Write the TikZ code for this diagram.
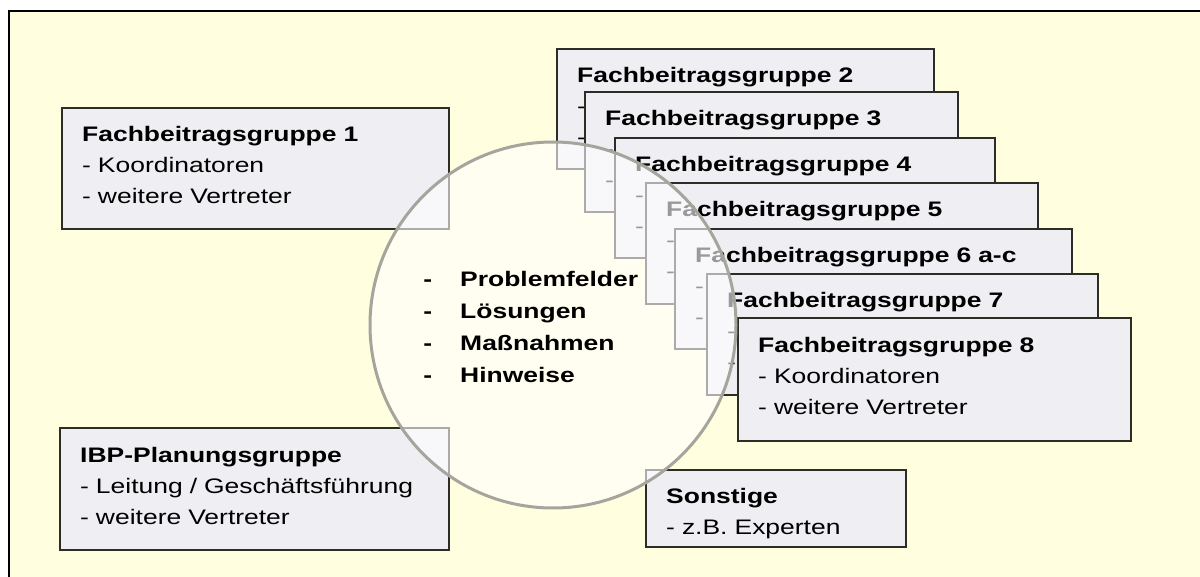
\documentclass[tikz,border=0pt]{standalone}
\usepackage{fontspec}
\setmainfont{Liberation Sans}[FakeStretch=1.26]
\usepackage{tikz}
\usetikzlibrary{positioning}
\usepackage{xcolor}
\definecolor{hintergrund}{RGB}{255,254,222}
\definecolor{kastenfill}{RGB}{239,239,243}
\definecolor{kastenrand}{RGB}{45,45,40}
\definecolor{kreisrand}{RGB}{165,165,158}

\begin{document}
\begin{tikzpicture}[x=0.5pt,y=-0.5pt,
  gruppe/.style={draw=kastenrand,line width=1.2pt,fill=kastenfill,anchor=north west,
    align=left,inner xsep=10pt,inner ysep=0pt,font=\fontsize{10.5}{15.5}\selectfont,
    execute at end node={\rule[-3.6pt]{0pt}{3.6pt}}}]
\useasboundingbox (0,0) rectangle (1200,577);
\fill[white] (0,0) rectangle (1200,577);
\fill[hintergrund] (9,11) rectangle (1200,577);
\draw[line width=1pt] (9,577) |- (1200,11);
\node[gruppe,minimum width=193.5pt,minimum height=60.5pt,text width=173.5pt] (fbg1) at (61,107)
  {\textbf{Fachbeitragsgruppe 1}\\- Koordinatoren\\- weitere Vertreter};
\node[gruppe,minimum width=194.5pt,minimum height=61pt,text width=174.5pt] (ibp) at (59,427)
  {\textbf{IBP-Planungsgruppe}\\- Leitung / Geschäftsführung\\- weitere Vertreter};
\node[gruppe,minimum width=130pt,minimum height=38.5pt,text width=110pt] (sonst) at (645,469)
  {\rule{0pt}{13.5pt}\textbf{Sonstige}\\- z.B. Experten};
\node[gruppe,minimum width=188.5pt,minimum height=60pt,text width=168.5pt] (fbg2) at (556,48)
  {\textbf{Fachbeitragsgruppe 2}\\- Koordinatoren\\- weitere Vertreter};
\node[gruppe,minimum width=186.5pt,minimum height=60pt,text width=166.5pt] (fbg3) at (584,91)
  {\textbf{Fachbeitragsgruppe 3}\\- Koordinatoren\\- weitere Vertreter};
\node[gruppe,minimum width=190pt,minimum height=60pt,text width=170pt] (fbg4) at (614,137)
  {\textbf{Fachbeitragsgruppe 4}\\- Koordinatoren\\- weitere Vertreter};
\node[gruppe,minimum width=196pt,minimum height=60.5pt,text width=176pt] (fbg5) at (645,182)
  {\textbf{Fachbeitragsgruppe 5}\\- Koordinatoren\\- weitere Vertreter};
\node[gruppe,minimum width=198.5pt,minimum height=60pt,text width=178.5pt] (fbg6) at (674,228)
  {\textbf{Fachbeitragsgruppe 6 a-c}\\- Koordinatoren\\- weitere Vertreter};
\node[gruppe,minimum width=195.5pt,minimum height=60.5pt,text width=175.5pt] (fbg7) at (706,273)
  {\textbf{Fachbeitragsgruppe 7}\\- Koordinatoren\\- weitere Vertreter};
\node[gruppe,minimum width=196.5pt,minimum height=61.5pt,text width=176.5pt] (fbg8) at (737,317)
  {\textbf{Fachbeitragsgruppe 8}\\- Koordinatoren\\- weitere Vertreter};
\node[circle,draw=kreisrand,line width=1.5pt,fill=white,fill opacity=0.6,
  minimum size=183pt,inner sep=0pt] (kreis) at (553,325) {};
\node[anchor=north west,inner sep=0pt,align=left,font=\bfseries\fontsize{10.5}{16}\selectfont]
  (themen) at (423,271)
  {-\hspace{14pt}Problemfelder\\-\hspace{14pt}Lösungen\\-\hspace{14pt}Maßnahmen\\-\hspace{14pt}Hinweise};
\end{tikzpicture}
\end{document}
